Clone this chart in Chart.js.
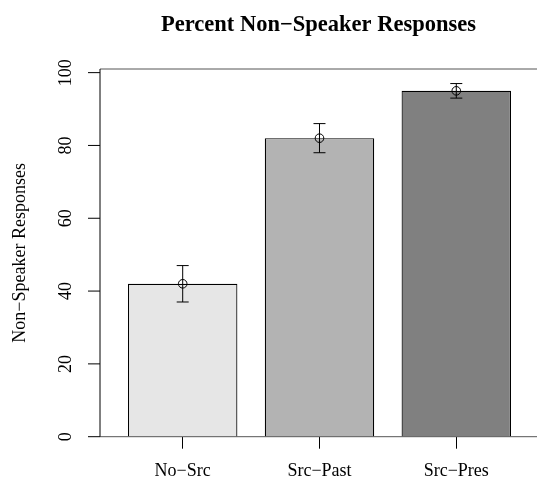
<!DOCTYPE html>
<html>
<head>
<meta charset="utf-8">
<script src="https://cdn.jsdelivr.net/npm/chart.js@4"></script>
<style>html,body{margin:0;background:#fff}</style>
</head>
<body>
<canvas id="c" width="537" height="481"></canvas>
<script>
// data
const categories = ["No\u2212Src", "Src\u2212Past", "Src\u2212Pres"];
const percentValues = [42, 82, 95];
const errorValues = [5, 4, 2];
const barColors = ["#e6e6e6", "#b3b3b3", "#808080"];
const yTicks = [0, 20, 40, 60, 80, 100];
const titleText = "Percent Non\u2212Speaker Responses";
const yTitle = "Non\u2212Speaker Responses";

const serif = "'Liberation Serif', 'Times New Roman', serif";

// axes, box, title and error bars in the R base-graphics look
const rStyle = {
    id: "rStyle",
    afterDatasetsDraw(chart) {
        const {ctx, chartArea: a, scales: {x, y}} = chart;
        ctx.save();

        // box (top + bottom) and left axis
        ctx.lineWidth = 1;
        ctx.strokeStyle = "#555";
        ctx.beginPath();
        ctx.moveTo(a.left, a.top); ctx.lineTo(a.right, a.top);
        ctx.moveTo(a.left, a.bottom); ctx.lineTo(a.right, a.bottom);
        ctx.stroke();
        ctx.strokeStyle = "#000";
        ctx.beginPath();
        ctx.moveTo(a.left, a.top); ctx.lineTo(a.left, a.bottom);
        ctx.stroke();

        // y ticks + rotated labels
        ctx.fillStyle = "#000";
        ctx.font = "18px " + serif;
        ctx.textAlign = "center";
        ctx.textBaseline = "alphabetic";
        yTicks.forEach(v => {
            const py = y.getPixelForValue(v);
            ctx.beginPath();
            ctx.moveTo(a.left - 12, py); ctx.lineTo(a.left, py);
            ctx.stroke();
            ctx.save();
            ctx.translate(a.left - 29, py);
            ctx.rotate(-Math.PI / 2);
            ctx.fillText(String(v), 0, 0);
            ctx.restore();
        });

        // y title
        ctx.save();
        ctx.translate(25, (a.top + a.bottom) / 2);
        ctx.rotate(-Math.PI / 2);
        ctx.fillText(yTitle, 0, 0);
        ctx.restore();

        // main title
        ctx.font = "bold 22.5px " + serif;
        ctx.fillText(titleText, (a.left + a.right) / 2, 31);

        // error bars with open circle at the mean
        percentValues.forEach((v, i) => {
            const px = x.getPixelForValue(i + 1);
            const pm = y.getPixelForValue(v);
            const lo = y.getPixelForValue(v - errorValues[i]);
            const hi = y.getPixelForValue(v + errorValues[i]);
            ctx.beginPath();
            ctx.moveTo(px, lo); ctx.lineTo(px, hi);
            ctx.moveTo(px - 6, lo); ctx.lineTo(px + 6, lo);
            ctx.moveTo(px - 6, hi); ctx.lineTo(px + 6, hi);
            ctx.stroke();
            ctx.beginPath();
            ctx.arc(px, pm, 4.3, 0, Math.PI * 2);
            ctx.stroke();
        });

        ctx.restore();
    }
};

new Chart(document.getElementById("c"), {
    type: "bar",
    data: {
        datasets: [{
            data: percentValues.map((v, i) => ({x: i + 1, y: v})),
            backgroundColor: barColors,
            borderColor: "#000",
            borderWidth: 1.2,
            barPercentage: 0.8,
            categoryPercentage: 1
        }]
    },
    options: {
        responsive: false,
        animation: false,
        layout: {padding: {top: 69, right: 0, bottom: 0, left: 0}},
        plugins: {
            legend: {display: false},
            tooltip: {enabled: false}
        },
        scales: {
            x: {
                type: "linear",
                offset: false,
                min: 0.3955,
                max: 3.59,
                afterBuildTicks: (s) => {
                    s.ticks = categories.map((c, i) => ({value: i + 1}));
                },
                afterFit: (s) => { s.height = 44.3; },
                ticks: {
                    callback: (v) => categories[v - 1],
                    font: {family: serif, size: 18},
                    color: "#000",
                    padding: 12,
                    autoSkip: false,
                    maxRotation: 0
                },
                grid: {display: true, offset: false, drawOnChartArea: false, drawTicks: true, tickLength: 12, color: "#000"},
                border: {display: false}
            },
            y: {
                min: 0,
                max: 101,
                afterFit: (s) => { s.width = 100; },
                ticks: {display: false},
                grid: {display: false},
                border: {display: false}
            }
        }
    },
    plugins: [rStyle]
});
</script>
</body>
</html>
